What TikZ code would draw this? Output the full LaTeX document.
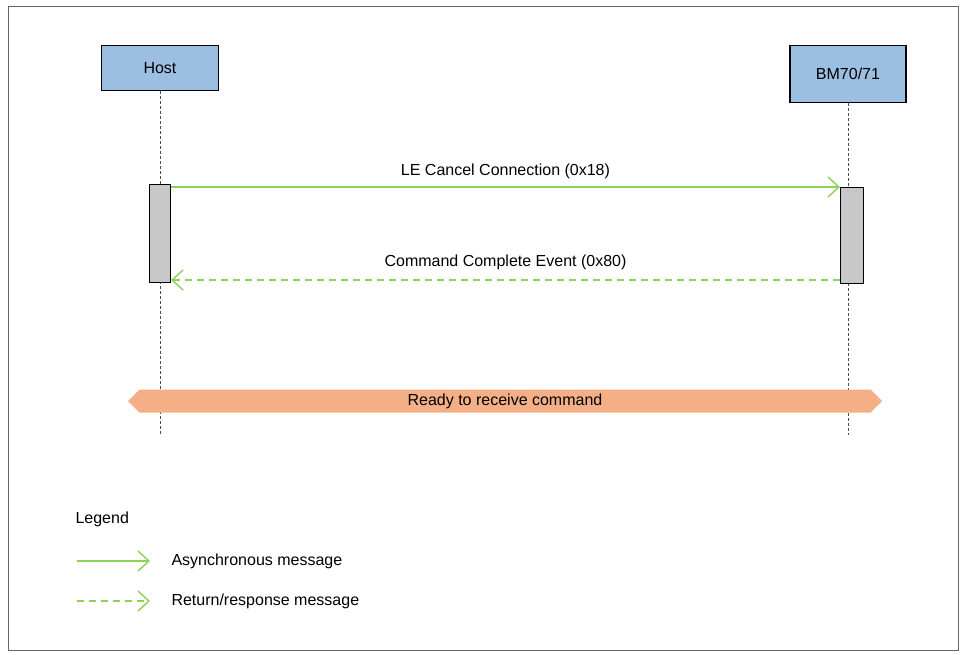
\documentclass[tikz,border=0pt]{standalone}
\usepackage{fontspec}
\setmainfont{Liberation Sans}
\usetikzlibrary{arrows.meta, positioning, shapes.geometric, shapes.symbols}
\definecolor{msggreen}{RGB}{140,210,90}
\definecolor{actorblue}{RGB}{155,190,225}
\definecolor{readyorange}{RGB}{245,175,135}

\begin{document}
\begin{tikzpicture}[
		x=1pt, y=-1pt,
		font=\fontsize{16}{19}\selectfont,
		MsgCfg/.style={draw=msggreen, line width=1.4pt,
			-{Straight Barb[length=11pt,width=20pt]}},
		RetCfg/.style={MsgCfg, dash pattern=on 7pt off 5pt},
		LifeCfg/.style={draw=black!70, dash pattern=on 3pt off 2pt, thin},
		ActorCfg/.style={draw, line width=1.2pt, fill=actorblue, minimum height=45pt, anchor=north},
		ActCfg/.style={draw, line width=1pt, fill=black!22, minimum width=21pt, anchor=north}
		]
		\useasboundingbox (0,0) rectangle (962,654);
		\draw[black!60, line width=1pt] (8,6) rectangle (958,650);
		
		\node [ActorCfg, minimum width=117pt] (HOST) at (160,45) {Host};
		\node [ActorCfg, minimum width=116pt, minimum height=57pt] (BM) at (848,45) {BM70/71};
		
		\coordinate (HOSTend) at (160,435);
		\coordinate (BMend) at (848,435);
		\draw [LifeCfg] (HOST.south) -- (HOSTend);
		\draw [LifeCfg] (BM.south) -- (BMend);
		
		\node [ActCfg, minimum height=98pt] (HOSTact) at (160,184) {};
		\node [ActCfg, minimum width=23pt, minimum height=96pt] (BMact) at (852,187) {};
		
		\draw [MsgCfg] (HOSTact.north east) ++(0,3) coordinate (m1) -- (m1 -| BMact.west)
		node [midway, above=4pt] {LE Cancel Connection (0x18)};
		\draw [RetCfg] (BMact.south west) ++(0,-4) coordinate (m2) -- (m2 -| HOSTact.east)
		node [midway, above=6pt] {Command Complete Event (0x80)};
		
		\node [signal, signal to=east and west, fill=readyorange, draw=none,
		minimum width=754pt, minimum height=23pt, inner xsep=0pt, inner ysep=2pt] (READY) at (505,401) {Ready to receive command};
		
		% legend
		\node [anchor=west] (LEG) at (72,519) {Legend};
		\coordinate (L1a) at (77,561);
		\coordinate (L1b) at (150,561);
		\coordinate (L2a) at (77,601);
		\coordinate (L2b) at (150,601);
		\draw [MsgCfg] (L1a) -- (L1b);
		\draw [RetCfg] (L2a) -- (L2b);
		\node [anchor=west] (ASYNC) at (168,561) {Asynchronous message};
		\node [anchor=west] (RET) at (168,601) {Return/response message};
\end{tikzpicture}
\end{document}
